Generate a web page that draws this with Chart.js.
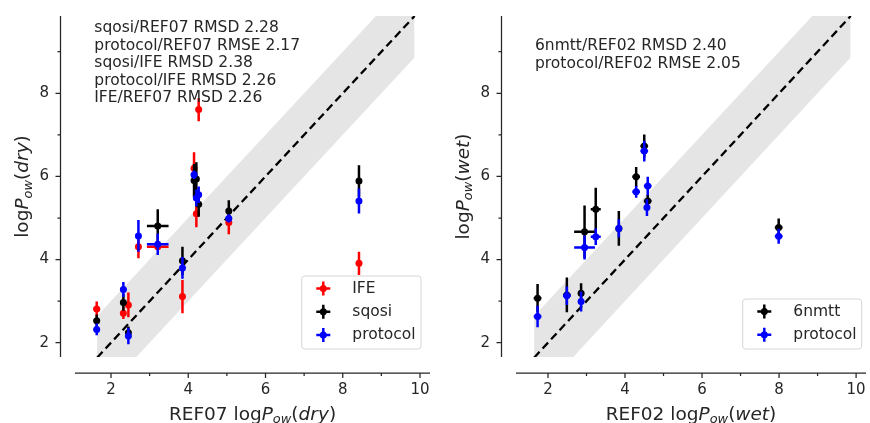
<!DOCTYPE html>
<html>
<head>
<meta charset="utf-8">
<script src="https://cdn.jsdelivr.net/npm/chart.js@4.4.0/dist/chart.umd.min.js"></script>
<style>
  html, body { margin: 0; padding: 0; background: #fff; }
  #wrap { position: relative; width: 870px; height: 423px; }
  .panel { position: absolute; top: 0; width: 435px; height: 423px; }
</style>
</head>
<body>
<div id="wrap">
  <div class="panel" style="left:0"><canvas id="dryChart" width="435" height="423"></canvas></div>
  <div class="panel" style="left:435px"><canvas id="wetChart" width="435" height="423"></canvas></div>
</div>
<script>
// ---- dry panel (x = REF07) ----
const ref07 = [1.63, 2.32, 2.45, 2.71, 3.21, 3.85, 4.15, 4.21, 4.27, 5.05, 8.42];
const ifeDry = [2.81, 2.71, 2.91, 4.31, 4.31, 3.11, 6.20, 5.10, 7.61, 4.89, 3.91];
const ifeDryErr = [0.18, 0.14, 0.30, 0.28, 0.08, 0.40, 0.38, 0.32, 0.28, 0.28, 0.28];
const ifeDryXErr = [0.09, 0, 0, 0, 0.28, 0, 0, 0, 0, 0, 0];
const sqosiDry = [2.53, 2.97, 2.24, null, 4.81, 3.97, 5.90, 5.94, 5.33, 5.17, 5.89];
const sqosiDryErr = [0.15, 0.20, 0.15, 0, 0.40, 0.34, 0.40, 0.40, 0.30, 0.26, 0.38];
const sqosiDryXErr = [0.08, 0.06, 0, 0, 0.28, 0, 0, 0, 0, 0, 0];
const protocolDry = [2.32, 3.28, 2.16, 4.57, 4.37, 3.80, 6.04, 5.48, 5.56, 4.99, 5.41];
const protocolDryErr = [0.14, 0.18, 0.20, 0.38, 0.26, 0.26, 0.10, 0.20, 0.20, 0.10, 0.30];
const protocolDryXErr = [0.08, 0.08, 0, 0, 0.28, 0, 0, 0, 0, 0, 0];
const dryNotes = ['sqosi/REF07 RMSD 2.28', 'protocol/REF07 RMSE 2.17', 'sqosi/IFE RMSD 2.38',
  'protocol/IFE RMSD 2.26', 'IFE/REF07 RMSD 2.26'];

// ---- wet panel (x = REF02) ----
const ref02 = [1.73, 2.49, 2.86, 2.95, 3.24, 3.84, 4.29, 4.50, 4.57, 4.59, 7.99];
const nmttWet = [3.07, 3.15, 3.19, 4.67, 5.21, 4.75, 5.99, 6.73, null, 5.41, 4.77];
const nmttWetErr = [0.34, 0.42, 0.24, 0.63, 0.52, 0.42, 0.24, 0.28, 0, 0.15, 0.22];
const nmttWetXErr = [0.1, 0.1, 0, 0.27, 0.13, 0, 0.1, 0.1, 0, 0.1, 0.1];
const protocolWet = [2.63, 3.13, 2.99, 4.29, 4.55, 4.75, 5.63, 6.61, 5.25, 5.77, 4.56];
const protocolWetErr = [0.26, 0.22, 0.24, 0.29, 0.20, 0.22, 0.14, 0.25, 0.20, 0.22, 0.18];
const protocolWetXErr = [0.1, 0.1, 0, 0.27, 0.13, 0, 0.1, 0.1, 0, 0.1, 0.1];
const wetNotes = ['6nmtt/REF02 RMSD 2.40', 'protocol/REF02 RMSE 2.05'];

// ---- shared axes ----
const xTicks = [2, 3, 4, 5, 6, 7, 8, 9, 10];
const yTicks = [2, 3, 4, 5, 6, 7, 8, 9];
const tickLabels = [2, 4, 6, 8, 10];
const diagRange = [1.64, 9.86];
const bandHalf = 1;

const TXT = '#262626';
const FONT = '"DejaVu Sans"';
Chart.defaults.font.family = FONT;

function errSegments(xs, ys, yerr, xerr) {
  const pts = [];
  xs.forEach((x, i) => {
    const y = ys[i];
    if (y === null) return;
    if (yerr[i] > 0) pts.push({x: x, y: y - yerr[i]}, {x: x, y: y + yerr[i]}, {x: null, y: null});
    if (xerr[i] > 0) pts.push({x: x - xerr[i], y: y}, {x: x + xerr[i], y: y}, {x: null, y: null});
  });
  return pts;
}

function markers(xs, ys) {
  return xs.map((x, i) => ys[i] === null ? null : {x: x, y: ys[i]}).filter(p => p);
}

function seriesSets(name, color, xs, ys, yerr, xerr, order) {
  return [
    {label: name + ' err', data: errSegments(xs, ys, yerr, xerr), showLine: true, spanGaps: false,
      borderColor: color, borderWidth: 2.5, pointRadius: 0, order: order + 1},
    {label: name, data: markers(xs, ys), pointRadius: 3.5, pointBorderWidth: 0,
      backgroundColor: color, borderColor: color, order: order}
  ];
}

function drawRich(ctx, parts, size, cx, baseY) {
  const fontOf = p => (p.it ? 'italic ' : '') + (p.sub ? size * 0.7 : size) + 'px ' + FONT;
  let total = 0;
  parts.forEach(p => { ctx.font = fontOf(p); total += ctx.measureText(p.t).width; });
  let x = cx - total / 2;
  ctx.textAlign = 'left';
  ctx.textBaseline = 'alphabetic';
  parts.forEach(p => {
    ctx.font = fontOf(p);
    ctx.fillText(p.t, x, baseY + (p.sub ? size * 0.2 : 0));
    x += ctx.measureText(p.t).width;
  });
}

const panelDecor = {
  id: 'panelDecor',
  afterDraw(chart, args, o) {
    const ctx = chart.ctx;
    const {left, right, top, bottom} = chart.chartArea;
    const xs = chart.scales.x, ys = chart.scales.y;
    ctx.save();
    ctx.strokeStyle = TXT;
    ctx.lineWidth = 1.25;
    // offset spines
    const sx = left - 14.5, sy = bottom + 16;
    ctx.beginPath();
    ctx.moveTo(sx, top); ctx.lineTo(sx, bottom);
    ctx.moveTo(left, sy); ctx.lineTo(right, sy);
    yTicks.forEach(v => {
      const p = ys.getPixelForValue(v);
      ctx.moveTo(sx, p); ctx.lineTo(sx - (tickLabels.includes(v) ? 5 : 3), p);
    });
    xTicks.forEach(v => {
      const p = xs.getPixelForValue(v);
      ctx.moveTo(p, sy); ctx.lineTo(p, sy + (tickLabels.includes(v) ? 5 : 3));
    });
    ctx.stroke();

    // statistics text
    ctx.fillStyle = TXT;
    ctx.font = '15.5px ' + FONT;
    ctx.textAlign = 'left';
    ctx.textBaseline = 'alphabetic';
    o.notes.forEach((t, i) => ctx.fillText(t, o.noteX, o.noteY + i * o.noteDy));

    // axis titles
    const title = [{t: 'log'}, {t: 'P', it: true}, {t: 'ow', it: true, sub: true}, {t: '('}, {t: o.phase, it: true}, {t: ')'}];
    drawRich(ctx, [{t: o.refName + ' '}].concat(title), 18.5, (left + right) / 2, 419.5);
    ctx.save();
    ctx.translate(o.yTitleX, (top + bottom) / 2);
    ctx.rotate(-Math.PI / 2);
    drawRich(ctx, title, 18.5, 0, 0);
    ctx.restore();

    // legend
    const L = o.legend;
    const h = L.items.length * 23 + 4;
    const bx = L.x, by = L.y, bw = L.w, r = 3;
    ctx.beginPath();
    ctx.moveTo(bx + r, by); ctx.lineTo(bx + bw - r, by); ctx.arcTo(bx + bw, by, bx + bw, by + r, r);
    ctx.lineTo(bx + bw, by + h - r); ctx.arcTo(bx + bw, by + h, bx + bw - r, by + h, r);
    ctx.lineTo(bx + r, by + h); ctx.arcTo(bx, by + h, bx, by + h - r, r);
    ctx.lineTo(bx, by + r); ctx.arcTo(bx, by, bx + r, by, r);
    ctx.closePath();
    ctx.fillStyle = 'rgba(255,255,255,0.8)';
    ctx.fill();
    ctx.strokeStyle = '#d6d6d6';
    ctx.lineWidth = 1;
    ctx.stroke();
    L.items.forEach((it, i) => {
      const cy = by + 12.5 + i * 23.3, mx = bx + 21.6;
      ctx.strokeStyle = it.color;
      ctx.lineWidth = 2.5;
      ctx.beginPath();
      ctx.moveTo(mx - 7, cy); ctx.lineTo(mx + 7, cy);
      ctx.moveTo(mx, cy - 7); ctx.lineTo(mx, cy + 7);
      ctx.stroke();
      ctx.fillStyle = it.color;
      ctx.beginPath(); ctx.arc(mx, cy, 3.5, 0, Math.PI * 2); ctx.fill();
      ctx.fillStyle = TXT;
      ctx.font = '15.5px ' + FONT;
      ctx.textBaseline = 'middle';
      ctx.fillText(it.name, bx + 50.6, cy);
    });
    ctx.restore();
  }
};

function makeChart(id, p) {
  const band = [
    {label: 'band lo', data: diagRange.map(v => ({x: v, y: v - bandHalf})), showLine: true,
      borderWidth: 0, pointRadius: 0, fill: false, order: 20},
    {label: 'band hi', data: diagRange.map(v => ({x: v, y: v + bandHalf})), showLine: true,
      borderWidth: 0, pointRadius: 0, fill: '-1', backgroundColor: '#e5e5e5', order: 19},
    {label: 'y=x', data: diagRange.map(v => ({x: v, y: v})), showLine: true, borderColor: '#000',
      borderWidth: 2.3, borderDash: [8, 4.5], pointRadius: 0, order: 18}
  ];
  let sets = band;
  p.series.forEach((s, i) => {
    sets = sets.concat(seriesSets(s.name, s.color, s.xs, s.ys, s.yerr, s.xerr, 10 - i * 2));
  });
  return new Chart(document.getElementById(id), {
    type: 'scatter',
    data: {datasets: sets},
    options: {
      responsive: false,
      animation: false,
      events: [],
      layout: {padding: {left: 0, right: p.padRight, top: 16, bottom: 0}},
      scales: {
        x: {
          type: 'linear', min: p.xMin, max: p.xMax, bounds: 'data',
          afterBuildTicks: s => { s.ticks = xTicks.map(v => ({value: v})); },
          afterFit: s => { s.height = 66; },
          grid: {display: true, drawOnChartArea: false, drawTicks: true, tickLength: 24,
            tickColor: 'rgba(0,0,0,0)', color: 'rgba(0,0,0,0)'},
          border: {display: false},
          ticks: {padding: 0, autoSkip: false, maxRotation: 0, color: TXT, font: {size: 15},
            callback: v => tickLabels.includes(v) ? String(v) : ''}
        },
        y: {
          type: 'linear', min: 1.656, max: 9.86, bounds: 'data',
          afterBuildTicks: s => { s.ticks = yTicks.map(v => ({value: v})); },
          afterFit: s => { s.width = p.yWidth; },
          grid: {display: true, drawOnChartArea: false, drawTicks: true, tickLength: 26,
            tickColor: 'rgba(0,0,0,0)', color: 'rgba(0,0,0,0)'},
          border: {display: false},
          ticks: {padding: 0, autoSkip: false, color: TXT, font: {size: 15},
            callback: v => tickLabels.includes(v) ? String(v) : ''}
        }
      },
      plugins: {
        legend: {display: false},
        tooltip: {enabled: false},
        panelDecor: p.decor
      }
    },
    plugins: [panelDecor]
  });
}

makeChart('dryChart', {
  xMin: 1.068, xMax: 10.259, yWidth: 75, padRight: 5,
  series: [
    {name: 'IFE', color: '#ff0000', xs: ref07, ys: ifeDry, yerr: ifeDryErr, xerr: ifeDryXErr},
    {name: 'sqosi', color: '#000000', xs: ref07, ys: sqosiDry, yerr: sqosiDryErr, xerr: sqosiDryXErr},
    {name: 'protocol', color: '#0000ff', xs: ref07, ys: protocolDry, yerr: protocolDryErr, xerr: protocolDryXErr}
  ],
  decor: {
    notes: dryNotes, noteX: 94.3, noteY: 32.2, noteDy: 17.5,
    refName: 'REF07', phase: 'dry', yTitleX: 28,
    legend: {x: 301.7, y: 276, w: 119.3, items: [
      {name: 'IFE', color: '#ff0000'}, {name: 'sqosi', color: '#000000'}, {name: 'protocol', color: '#0000ff'}]}
  }
});

makeChart('wetChart', {
  xMin: 1.17, xMax: 10.257, yWidth: 81, padRight: 0,
  series: [
    {name: '6nmtt', color: '#000000', xs: ref02, ys: nmttWet, yerr: nmttWetErr, xerr: nmttWetXErr},
    {name: 'protocol', color: '#0000ff', xs: ref02, ys: protocolWet, yerr: protocolWetErr, xerr: protocolWetXErr}
  ],
  decor: {
    notes: wetNotes, noteX: 100, noteY: 49.8, noteDy: 18.2,
    refName: 'REF02', phase: 'wet', yTitleX: 33.7,
    legend: {x: 307.7, y: 299, w: 119, items: [
      {name: '6nmtt', color: '#000000'}, {name: 'protocol', color: '#0000ff'}]}
  }
});
</script>
</body>
</html>
